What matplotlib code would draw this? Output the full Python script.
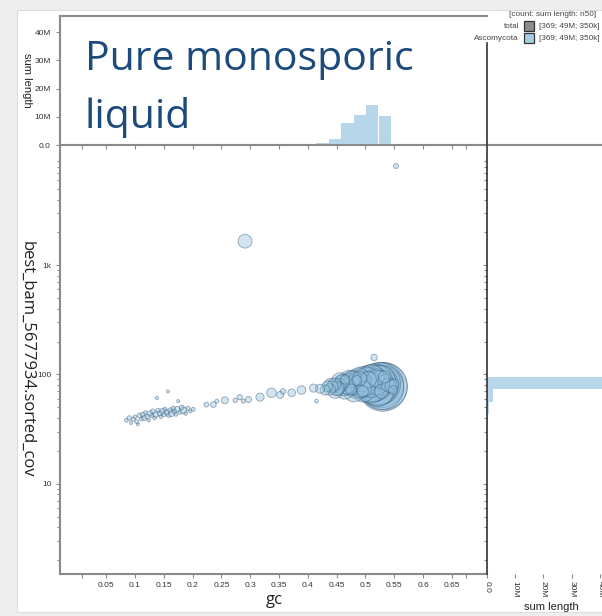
import matplotlib
matplotlib.use('Agg')
import matplotlib.pyplot as plt
import numpy as np
from matplotlib.patches import Rectangle
from matplotlib.lines import Line2D

plt.rcParams['font.family'] = ['Liberation Sans', 'DejaVu Sans']

# contigs: gc, coverage, length (kb)
gc = [0.085, 0.090, 0.093, 0.097, 0.100, 0.103, 0.105, 0.108, 0.111, 0.113,
      0.116, 0.118, 0.121, 0.124, 0.126, 0.129, 0.131, 0.134, 0.136, 0.138,
      0.140, 0.143, 0.145, 0.148, 0.150, 0.152, 0.155, 0.157, 0.158, 0.161,
      0.163, 0.166, 0.168, 0.171, 0.173, 0.175, 0.178, 0.181, 0.184, 0.188,
      0.192, 0.196, 0.201,
      0.224, 0.236, 0.242, 0.256, 0.274, 0.282, 0.288, 0.297, 0.317, 0.337,
      0.352, 0.357, 0.372, 0.389, 0.410, 0.415, 0.421,
      0.291, 0.553,
      0.532, 0.530, 0.528, 0.527, 0.524, 0.522, 0.520, 0.516, 0.512, 0.508,
      0.504, 0.500, 0.497, 0.493, 0.489, 0.486, 0.482, 0.478, 0.474, 0.470,
      0.466, 0.462, 0.458, 0.454, 0.450, 0.446, 0.442, 0.438, 0.434, 0.430,
      0.525, 0.535, 0.540, 0.545, 0.518, 0.510, 0.505, 0.498, 0.490, 0.550,
      0.533, 0.495, 0.515, 0.485, 0.475, 0.465, 0.548, 0.528,
      0.514, 0.519, 0.509, 0.502, 0.496, 0.488, 0.480, 0.472, 0.464, 0.456,
      0.448, 0.440, 0.506, 0.499, 0.491, 0.483, 0.476, 0.468, 0.460, 0.452,
      0.521, 0.526, 0.511, 0.494, 0.477]
cov = [38, 40, 36, 39, 41, 37, 35, 42, 39, 43,
       40, 45, 41, 38, 44, 42, 46, 40, 43, 61,
       47, 44, 41, 46, 43, 48, 45, 70, 42, 47,
       44, 49, 46, 43, 48, 57, 45, 50, 47, 44,
       49, 46, 48,
       53, 53, 57, 58, 58, 62, 57, 59, 62, 68,
       65, 70, 68, 72, 75, 57, 74,
       1660, 8100,
       78, 77, 76, 80, 82, 80, 79, 84, 81, 86,
       78, 83, 88, 80, 85, 77, 82, 87, 79, 84,
       80, 76, 83, 79, 74, 81, 77, 73, 78, 72,
       90, 85, 80, 78, 92, 75, 90, 74, 92, 82,
       95, 70, 143, 88, 73, 90, 72, 70,
       76, 86, 73, 90, 72, 91, 70, 89, 72, 87,
       71, 80, 83, 79, 76, 85, 81, 78, 86, 75,
       72, 88, 94, 84, 90]
length_kb = [8, 12, 6, 10, 7, 9, 5, 14, 8, 11,
             16, 7, 12, 6, 18, 9, 13, 8, 20, 6,
             10, 15, 7, 22, 11, 9, 17, 5, 8, 14,
             25, 10, 12, 7, 19, 6, 9, 13, 28, 8,
             11, 6, 9,
             14, 20, 9, 30, 12, 16, 10, 22, 40, 55,
             30, 18, 35, 45, 40, 8, 50,
             116, 15,
             1350, 1450, 1200, 1250, 1100, 1000, 950, 850, 760, 680,
             600, 540, 480, 430, 390, 350, 310, 280, 250, 220,
             195, 170, 150, 130, 115, 100, 90, 80, 70, 60,
             200, 150, 120, 100, 180, 220, 160, 140, 120, 60,
             90, 80, 25, 60, 70, 50, 50, 120,
             500, 420, 450, 380, 340, 300, 260, 230, 200, 170,
             140, 110, 320, 280, 250, 210, 180, 150, 130, 120,
             650, 560, 400, 200, 160]

# gc histogram: bin left edges and summed length (Mb)
gc_bin_left = [0.072, 0.093, 0.115, 0.136, 0.158, 0.179, 0.200, 0.222, 0.243, 0.265,
               0.286, 0.308, 0.329, 0.351, 0.372, 0.394, 0.415, 0.437, 0.458, 0.480,
               0.501, 0.523]
gc_bin_sum = [0.05, 0.15, 0.3, 0.35, 0.25, 0.15, 0.1, 0.1, 0.1, 0.1,
              0.25, 0.1, 0.2, 0.15, 0.2, 0.35, 0.8, 2.1, 7.7, 10.5,
              14.3, 10.3]
gc_bin_width = 0.0215

# coverage histogram: log10 bin left edges and summed length (Mb)
cov_bin_left = [1.52, 1.635, 1.75, 1.865, 1.98, 2.095]
cov_bin_sum = [0.4, 0.8, 2.2, 44.0, 0.15, 0.05]
cov_bin_width = 0.115

legend_rows = ['total', 'Ascomycota']
legend_colors = ['#8c8c8c', '#a6cee3']
legend_stats = ['[369; 49M; 350k]', '[369; 49M; 350k]']

W, H = 602, 616
def fx(px):
    return px / W
def fy(py):
    return 1 - py / H

fig = plt.figure(figsize=(W / 100, H / 100), dpi=100, facecolor='#eeeeee')
# white card behind everything
fig.patches.append(Rectangle((fx(17), fy(612)), 1, fy(10) - fy(612), transform=fig.transFigure,
                             facecolor='white', edgecolor='#dddddd', lw=0.8, zorder=-10))

ax = fig.add_axes([fx(60), fy(574), fx(487) - fx(60), fy(145) - fy(574)])
axt = fig.add_axes([fx(60), fy(145), fx(487) - fx(60), fy(16) - fy(145)], sharex=ax)
axr = fig.add_axes([fx(487), fy(574), 129 / W, fy(145) - fy(574)], sharey=ax)
for a in (ax, axt, axr):
    a.set_facecolor('none')

spine_c = '#8a8a8a'

# scatter
sizes = np.array(length_kb) * 0.85
order = np.argsort(-sizes)
ax.scatter(np.array(gc)[order], np.array(cov)[order], s=sizes[order],
           facecolor=(0.58, 0.76, 0.87, 0.42), edgecolor=(0.24, 0.38, 0.50, 0.48), linewidth=0.7)
ax.set_yscale('log')
ax.set_xlim(-0.0302, 0.711)
ax.set_ylim(1.49, 12620)
xt = [0.0075] + [round(0.05 * i, 2) for i in range(1, 14)] + [0.674]
ax.set_xticks(xt)
ax.set_xticklabels([''] + ['%g' % v for v in xt[1:-1]] + [''])
ax.set_yticks([10, 100, 1000])
ax.set_yticklabels(['10', '100', '1k'])
for s in ['top', 'right']:
    ax.spines[s].set_visible(False)
for s in ['left', 'bottom']:
    ax.spines[s].set_color(spine_c)
    ax.spines[s].set_linewidth(1.5)
ax.tick_params(which='both', colors=spine_c, labelcolor='#333333', labelsize=6, width=0.8)
ax.tick_params(which='major', length=3, pad=3)
ax.tick_params(which='minor', length=2)
ax.set_xlabel('gc', family='Open Sans', fontsize=12, color='#222222')
ax.xaxis.set_label_coords(0.502, -0.06)
ax.xaxis.label.set_va('center')
ax.set_ylabel('best_bam_5677934.sorted_cov', family='Open Sans', fontsize=12,
              color='#222222', rotation=270, va='center')
ax.yaxis.set_label_coords(-0.0773, 0.5)

# top histogram
axt.bar(gc_bin_left, np.array(gc_bin_sum) * 1e6, width=gc_bin_width, align='edge',
        color='#b8d6ea', linewidth=0)
axt.set_ylim(0, 45.7e6)
axt.set_yticks([0, 10e6, 20e6, 30e6, 40e6])
axt.set_yticklabels(['0.0', '10M', '20M', '30M', '40M'])
axt.tick_params(axis='x', labelbottom=False)
axt.spines['right'].set_visible(False)
for s in ['left', 'bottom', 'top']:
    axt.spines[s].set_color(spine_c)
    axt.spines[s].set_linewidth(1.5)
axt.tick_params(colors=spine_c, labelcolor='#333333', labelsize=6, length=3, width=0.8)
axt.set_ylabel('sum length', fontsize=8, color='#222222', rotation=270, va='center')
axt.yaxis.set_label_coords(-0.0773, 0.5)

# right histogram
lo = 10 ** np.array(cov_bin_left)
hi = 10 ** (np.array(cov_bin_left) + cov_bin_width)
axr.barh(lo, np.array(cov_bin_sum) * 1e6, height=hi - lo, align='edge', color='#b8d6ea', linewidth=0)
axr.set_xlim(0, 45.7e6)
axr.set_xticks([0, 10e6, 20e6, 30e6, 40e6])
axr.set_xticklabels(['0.0', '10M', '20M', '30M', '40M'], rotation=270)
axr.tick_params(axis='y', labelleft=False)
axr.spines['right'].set_visible(False)
axr.spines['bottom'].set_visible(False)
axr.spines['left'].set_color('#333333')
axr.spines['left'].set_linewidth(1.2)
axr.spines['top'].set_color(spine_c)
axr.spines['top'].set_linewidth(1.5)
axr.tick_params(which='both', colors=spine_c, labelcolor='#333333', labelsize=6, width=0.8)
axr.tick_params(which='major', length=3, pad=2)
axr.tick_params(which='minor', length=2)
axr.set_xlabel('sum length', fontsize=8, color='#222222')
axr.xaxis.set_label_coords(0.5, -0.077)
axr.xaxis.label.set_va('center')

fig.add_artist(Line2D([fx(487), fx(487)], [fy(145), fy(43)], color='#333333', lw=1.2))

# title
fig.text(fx(85), fy(70), 'Pure monosporic', family='Open Sans', fontsize=29.5,
         color='#1c4a7c', va='baseline')
fig.text(fx(85), fy(128), 'liquid', family='Open Sans', fontsize=29.5,
         color='#1c4a7c', va='baseline')

# legend
fig.text(fx(509), fy(15), '[count: sum length: n50]', fontsize=5.9, color='#444444', va='center')
for i, (name, col, stat) in enumerate(zip(legend_rows, legend_colors, legend_stats)):
    yc = 26 + 12 * i
    fig.text(fx(519), fy(yc), name, fontsize=5.9, color='#444444', ha='right', va='center')
    fig.patches.append(Rectangle((fx(524), fy(yc + 5)), 10 / W, 10 / H, transform=fig.transFigure,
                                 facecolor=col, edgecolor='#333333', lw=0.9))
    fig.text(fx(539), fy(yc), stat, fontsize=5.9, color='#444444', va='center')

fig.savefig('out.png', dpi=100, facecolor=fig.get_facecolor())
